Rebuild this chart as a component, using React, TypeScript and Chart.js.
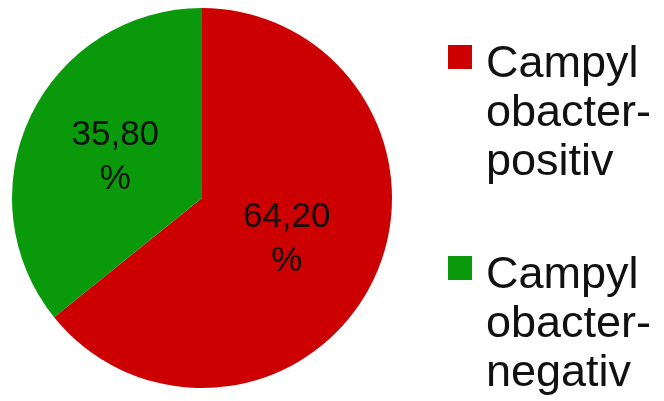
import React, { useEffect, useRef } from 'react';
import { Chart, registerables } from 'chart.js';

Chart.register(...registerables);

const categories: string[][] = [
  ['Campyl', 'obacter-', 'positiv'],
  ['Campyl', 'obacter-', 'negativ'],
];
const values: number[] = [64.2, 35.8];
const valueLabels: string[][] = [
  ['64,20', '%'],
  ['35,80', '%'],
];
const colors: string[] = ['#cc0000', '#0a990a'];

const FONT = '"Liberation Sans", Arial, sans-serif';

const sliceLabelPlugin = {
  id: 'sliceLabels',
  afterDatasetsDraw(chart: any) {
    const ctx = chart.ctx;
    const meta = chart.getDatasetMeta(0);
    ctx.save();
    ctx.font = `35px ${FONT}`;
    ctx.fillStyle = '#111111';
    ctx.textAlign = 'center';
    ctx.textBaseline = 'middle';
    meta.data.forEach((arc: any, i: number) => {
      const p = arc.tooltipPosition(false);
      const lines = valueLabels[i];
      const lh = 44;
      const startY = p.y - ((lines.length - 1) * lh) / 2;
      lines.forEach((t, j) => ctx.fillText(t, p.x - 1, startY + j * lh));
    });
    ctx.restore();
  },
};

const legendPlugin = {
  id: 'customLegend',
  afterDraw(chart: any) {
    const ctx = chart.ctx;
    const area = chart.chartArea;
    const boxX = area.right + 56;
    const textX = boxX + 38;
    const itemTops = [45, 256];
    ctx.save();
    ctx.font = `45px ${FONT}`;
    ctx.textAlign = 'left';
    ctx.textBaseline = 'alphabetic';
    categories.forEach((lines, i) => {
      const top = itemTops[i];
      ctx.fillStyle = colors[i];
      ctx.fillRect(boxX, top, 24, 24);
      ctx.fillStyle = '#111111';
      lines.forEach((t, j) => ctx.fillText(t, textX, top + 32 + j * 49));
    });
    ctx.restore();
  },
};

export default function App() {
  const ref = useRef<HTMLCanvasElement | null>(null);
  useEffect(() => {
    if (!ref.current) return;
    const chart = new Chart(ref.current, {
      type: 'pie',
      data: {
        labels: categories.map((c) => c.join('')),
        datasets: [
          {
            data: values,
            backgroundColor: colors,
            borderWidth: 0,
          },
        ],
      },
      options: {
        responsive: false,
        animation: false,
        layout: { padding: { left: 12, top: 8, right: 272, bottom: 13 } },
        plugins: {
          legend: { display: false },
          tooltip: { enabled: false },
        },
      },
      plugins: [sliceLabelPlugin, legendPlugin],
    });
    return () => chart.destroy();
  }, []);
  return (
    <div style={{ position: 'fixed', left: 0, top: 0, width: 664, height: 401, background: '#fff' }}>
      <canvas ref={ref} width={664} height={401} />
    </div>
  );
}
